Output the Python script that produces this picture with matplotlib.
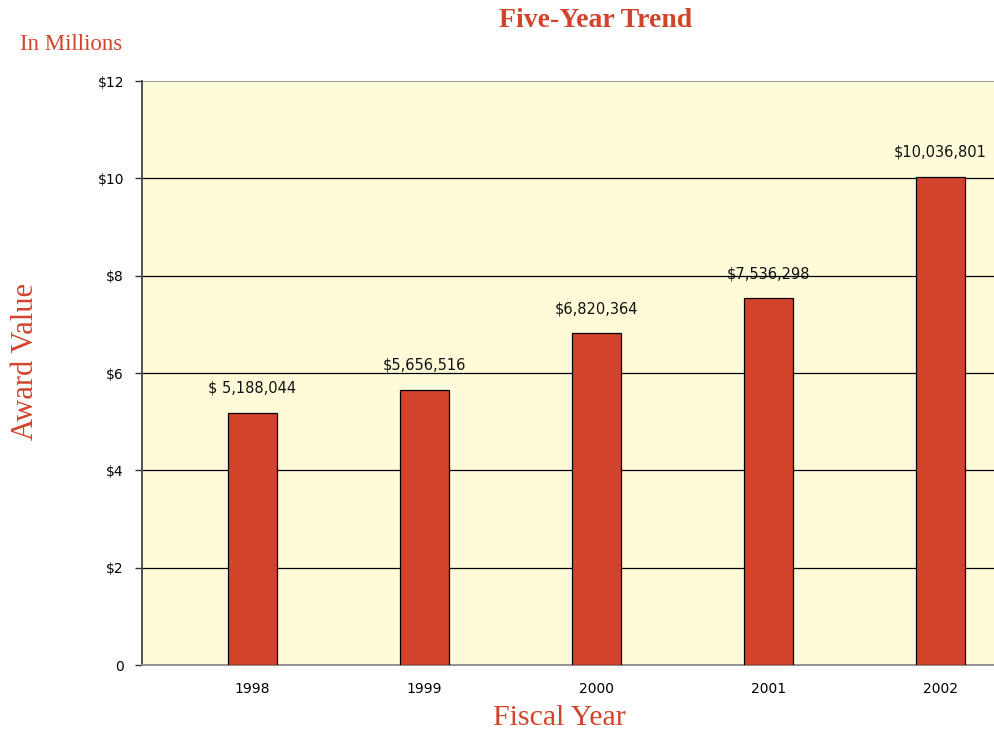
import matplotlib
matplotlib.use("Agg")
import matplotlib.pyplot as plt

years = ["1998", "1999", "2000", "2001", "2002"]
awards = [5188044, 5656516, 6820364, 7536298, 10036801]
bar_labels = ["$ 5,188,044", "$5,656,516", "$6,820,364", "$7,536,298", "$10,036,801"]
y_ticks = [0, 2, 4, 6, 8, 10, 12]
y_tick_labels = ["0", "$2", "$4", "$6", "$8", "$10", "$12"]

RED = "#D2432C"
BG = "#FFFBD9"

fig = plt.figure(figsize=(9.94, 7.34), dpi=100)
ax = fig.add_axes([0.1429, 0.094, 0.857, 0.7956])
ax.set_facecolor(BG)

values = [v / 1e6 for v in awards]
x = list(range(len(years)))
ax.bar(x, values, width=0.285, color=RED, edgecolor="black", linewidth=0.9, zorder=3)

# value labels sit a little above each bar
for xi, v, lab in zip(x, values, bar_labels):
    ax.text(xi, v + 0.5, lab, ha="center", va="center", fontsize=10.5,
            family="DejaVu Sans", color="#111111", zorder=4)

ax.set_xlim(-0.64, 4.31)
ax.set_ylim(0, 12)
ax.set_yticks(y_ticks)
ax.set_yticklabels(y_tick_labels, fontsize=10)
ax.set_xticks(x)
ax.set_xticklabels(years, fontsize=10)
ax.tick_params(axis="x", length=0, pad=12)
ax.tick_params(axis="y", length=5, width=1, pad=8, color="#333333")

for y in y_ticks[1:-1]:
    ax.axhline(y, color="black", linewidth=0.9, zorder=1)
ax.axhline(12, color="#888888", linewidth=1.2, zorder=1)

for side in ["top", "right"]:
    ax.spines[side].set_visible(False)
ax.spines["left"].set_color("#444444")
ax.spines["left"].set_linewidth(1.3)
ax.spines["bottom"].set_color("#888888")
ax.spines["bottom"].set_linewidth(1.3)

serif = ["Liberation Serif", "DejaVu Serif"]
fig.text(0.599, 0.972, "Five-Year Trend", ha="center", va="center", fontsize=20,
         fontweight="bold", color=RED, family=serif)
fig.text(0.02, 0.94, "In Millions", ha="left", va="center", fontsize=16.5,
         color=RED, family=serif)
fig.text(0.026, 0.507, "Award Value", ha="center", va="center", rotation=90,
         fontsize=22, color=RED, family=serif)
fig.text(0.563, 0.022, "Fiscal Year", ha="center", va="center", fontsize=21.5,
         color=RED, family=serif)

fig.savefig("out.png", dpi=100)
